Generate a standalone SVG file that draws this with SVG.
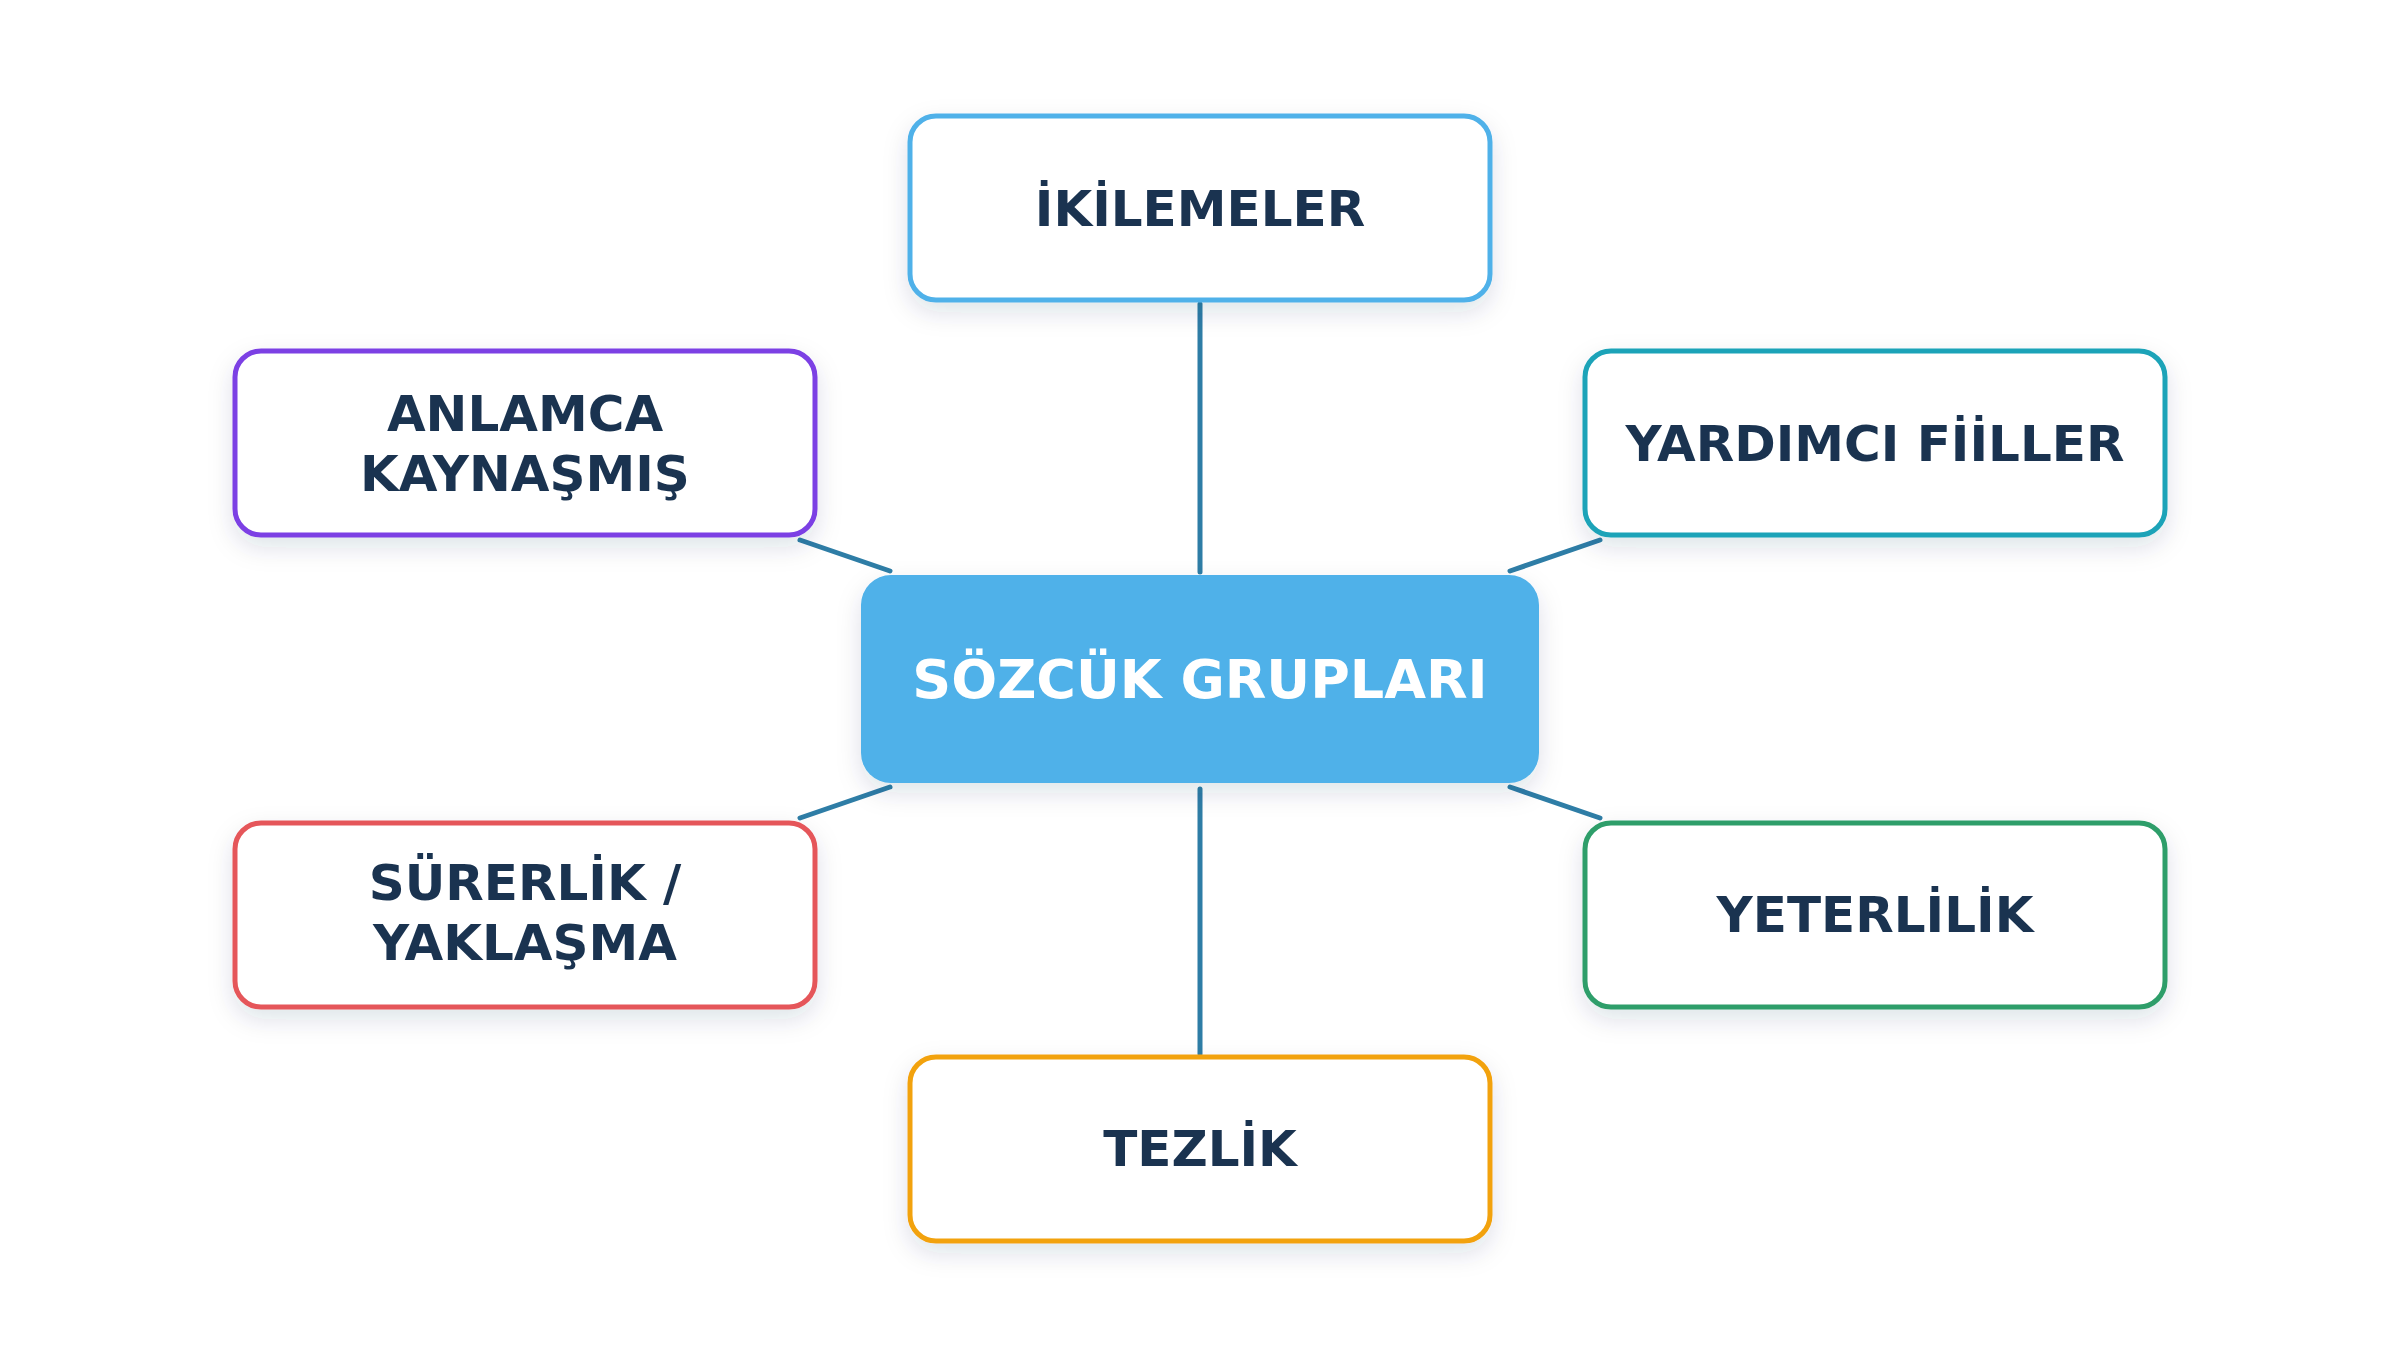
<svg xmlns="http://www.w3.org/2000/svg" width="2400" height="1350" viewBox="0 0 2400 1350">
  <defs>
    <filter id="shadow" x="-20%" y="-30%" width="140%" height="170%">
      <feDropShadow dx="0" dy="10" stdDeviation="12" flood-color="#1a3350" flood-opacity="0.13"/>
    </filter>
    <style>
      .node { fill: #ffffff; stroke-width: 5; filter: url(#shadow); }
      .label { font-family: "DejaVu Sans", Verdana, sans-serif; font-weight: bold; font-size: 50px; fill: #1a3350; text-anchor: middle; }
      .center-label { font-family: "DejaVu Sans", Verdana, sans-serif; font-weight: bold; font-size: 54px; fill: #ffffff; text-anchor: middle; }
      .conn { stroke: #2e7da6; stroke-width: 5; stroke-linecap: round; fill: none; }
    </style>
  </defs>
  <rect x="0" y="0" width="2400" height="1350" fill="#ffffff"/>

  <g id="connectors">
    <line class="conn" x1="1200" y1="304" x2="1200" y2="572"/>
    <line class="conn" x1="1200" y1="789" x2="1200" y2="1054"/>
    <line class="conn" x1="800" y1="540" x2="890" y2="571"/>
    <line class="conn" x1="1600" y1="540" x2="1510" y2="571"/>
    <line class="conn" x1="800" y1="818" x2="890" y2="787"/>
    <line class="conn" x1="1600" y1="818" x2="1510" y2="787"/>
  </g>

  <g id="node-center">
    <rect x="861" y="575" width="678" height="208" rx="30" fill="#4fb1e9" filter="url(#shadow)"/>
    <text class="center-label" x="1200" y="698">SÖZCÜK GRUPLARI</text>
  </g>

  <g id="node-ikilemeler">
    <rect class="node" x="910" y="116" width="580" height="184" rx="26" stroke="#4fb1e9"/>
    <text class="label" x="1200" y="226">İKİLEMELER</text>
  </g>

  <g id="node-anlamca">
    <rect class="node" x="235" y="351" width="580" height="184" rx="26" stroke="#7b3fe4"/>
    <text class="label" x="525" y="431">ANLAMCA</text>
    <text class="label" x="525" y="491">KAYNAŞMIŞ</text>
  </g>

  <g id="node-yardimci">
    <rect class="node" x="1585" y="351" width="580" height="184" rx="26" stroke="#1ba3b8"/>
    <text class="label" x="1875" y="461">YARDIMCI FİİLLER</text>
  </g>

  <g id="node-surerlik">
    <rect class="node" x="235" y="823" width="580" height="184" rx="26" stroke="#e5575a"/>
    <text class="label" x="525" y="900">SÜRERLİK /</text>
    <text class="label" x="525" y="960">YAKLAŞMA</text>
  </g>

  <g id="node-yeterlilik">
    <rect class="node" x="1585" y="823" width="580" height="184" rx="26" stroke="#2f9e6a"/>
    <text class="label" x="1875" y="932">YETERLİLİK</text>
  </g>

  <g id="node-tezlik">
    <rect class="node" x="910" y="1057" width="580" height="184" rx="26" stroke="#f2a20f"/>
    <text class="label" x="1200" y="1166">TEZLİK</text>
  </g>
</svg>
